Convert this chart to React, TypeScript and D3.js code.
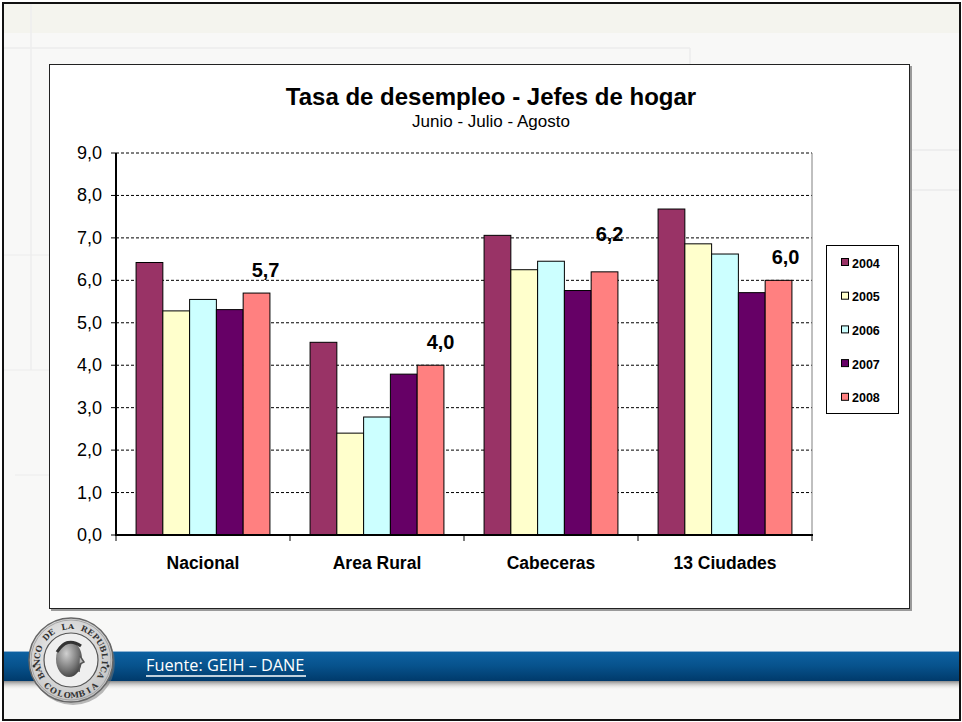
import React from "react";
import * as d3 from "d3";

const categories = ["Nacional", "Area Rural", "Cabeceras", "13 Ciudades"];
const years = ["2004", "2005", "2006", "2007", "2008"];
const values2004 = [6.42, 4.54, 7.06, 7.68];
const values2005 = [5.28, 2.4, 6.25, 6.86];
const values2006 = [5.55, 2.78, 6.45, 6.62];
const values2007 = [5.31, 3.79, 5.76, 5.71];
const values2008 = [5.7, 4.0, 6.2, 6.0];
const seriesValues = [values2004, values2005, values2006, values2007, values2008];
const seriesColors = ["#993366", "#FFFFCC", "#CCFFFF", "#660066", "#FF8080"];
const yTicks = [0, 1, 2, 3, 4, 5, 6, 7, 8, 9];
// small nudges of the 2008 value labels (dx, extra dy) as placed in the original
const labelNudgeX = [9, 10, 5, 7];
const labelNudgeY = [0, 0, 15, 0];
const sealTopText = "BANCO DE LA REPUBLICA";
const sealBottomText = "COLOMBIA";

const FONT = "'Liberation Sans', Arial, Helvetica, sans-serif";
const fmt = (v: number) => d3.format(".1f")(v).replace(".", ",");

function ArcLetters({ text, cx, cy, r, from, to, bottom }: { text: string; cx: number; cy: number; r: number; from: number; to: number; bottom: boolean }) {
  const chars = text.split("");
  const ang = d3.scaleLinear().domain([0, chars.length - 1]).range([from, to]);
  return (
    <g>
      {chars.map((ch, i) => {
        if (ch === " ") return null;
        const th = ang(i);
        const rad = (th * Math.PI) / 180;
        const px = cx + r * Math.sin(rad);
        const py = cy - r * Math.cos(rad);
        const rot = bottom ? th - 180 : th;
        return (
          <text key={i} x={0} y={0} transform={`translate(${px.toFixed(2)},${py.toFixed(2)}) rotate(${rot.toFixed(2)})`}
            textAnchor="middle" fontSize={8} fontWeight="bold" fill="#333" fontFamily="'DejaVu Serif', serif">
            {ch}
          </text>
        );
      })}
    </g>
  );
}

export default function App() {
  const plotL = 116, plotR = 812, plotT = 153, plotB = 535;
  const x0 = d3.scaleBand<string>().domain(categories).range([plotL, plotR]).paddingInner(0).paddingOuter(0);
  const x1 = d3.scaleBand<string>().domain(years).range([0, x0.bandwidth()]).paddingInner(0).paddingOuter(0.75);
  const y = d3.scaleLinear().domain([0, 9]).range([plotB, plotT]);

  const cx = 71, cy = 660;

  const legendX = 826, legendY = 245, legendW = 72, legendH = 168;
  const legendRow = (i: number) => 263 + i * 33.7;

  return (
    <svg width={962} height={722} style={{ position: "absolute", left: 0, top: 0 }} fontFamily={FONT}>
      <defs>
        <linearGradient id="band" x1="0" y1="0" x2="0" y2="1">
          <stop offset="0" stopColor="#0d62a3" />
          <stop offset="0.5" stopColor="#07528c" />
          <stop offset="1" stopColor="#003a6b" />
        </linearGradient>
        <linearGradient id="bandShadow" x1="0" y1="0" x2="0" y2="1">
          <stop offset="0" stopColor="#8a8a8a" />
          <stop offset="1" stopColor="#f7f7f5" stopOpacity="0" />
        </linearGradient>
        <radialGradient id="seal" cx="0.45" cy="0.4" r="0.7">
          <stop offset="0" stopColor="#f4f4f4" />
          <stop offset="1" stopColor="#bdbdbd" />
        </radialGradient>
        <radialGradient id="head" cx="0.4" cy="0.35" r="0.75">
          <stop offset="0" stopColor="#d0d0d0" />
          <stop offset="0.6" stopColor="#777" />
          <stop offset="1" stopColor="#333" />
        </radialGradient>
      </defs>

      {/* slide background */}
      <rect x={0} y={0} width={962} height={722} fill="#ffffff" />
      <rect x={4} y={4} width={955} height={715} fill="#f8f8f7" />
      <rect x={4} y={4} width={955} height={29} fill="#f4f4ee" />
      <line x1={4} y1={48} x2={690} y2={48} stroke="#ececec" strokeWidth={1.5} />
      <line x1={690} y1={48} x2={690} y2={64} stroke="#ececec" strokeWidth={1.5} />
      <line x1={31} y1={4} x2={31} y2={370} stroke="#eeeeee" strokeWidth={1.5} />
      <line x1={4} y1={255} x2={49} y2={255} stroke="#ececec" strokeWidth={1} />
      <line x1={4} y1={370} x2={49} y2={370} stroke="#ececec" strokeWidth={1} />
      <line x1={15} y1={475} x2={49} y2={475} stroke="#ececec" strokeWidth={1} />
      <line x1={910} y1={150} x2={959} y2={150} stroke="#ebebeb" strokeWidth={1.5} />
      <line x1={910} y1={190} x2={959} y2={190} stroke="#ebebeb" strokeWidth={1.5} />
      <rect x={3} y={3} width={957} height={717} fill="none" stroke="#111" strokeWidth={2} />

      {/* chart box */}
      <rect x={51} y={66} width={861} height={545} fill="#9a9a9a" />
      <rect x={49.5} y={64.5} width={860} height={544} fill="#ffffff" stroke="#222" strokeWidth={1} />

      {/* titles */}
      <text x={491} y={105} textAnchor="middle" fontSize={24} fontWeight="bold" fill="#000">
        Tasa de desempleo - Jefes de hogar
      </text>
      <text x={491} y={127} textAnchor="middle" fontSize={17} fill="#000">
        Junio - Julio - Agosto
      </text>

      {/* grid */}
      {yTicks.filter((t) => t > 0).map((t) => (
        <line key={"g" + t} x1={plotL} x2={plotR} y1={y(t)} y2={y(t)} stroke="#000" strokeWidth={1} strokeDasharray="3,2" />
      ))}
      <line x1={plotR} x2={plotR} y1={plotT} y2={plotB} stroke="#808080" strokeWidth={1} />

      {/* bars */}
      {categories.map((c, ci) =>
        years.map((yr, si) => {
          const v = seriesValues[si][ci];
          const bx = (x0(c) as number) + (x1(yr) as number);
          return (
            <rect key={c + yr} x={bx} y={y(v)} width={x1.bandwidth()} height={y(0) - y(v)}
              fill={seriesColors[si]} stroke="#000" strokeWidth={1} />
          );
        })
      )}

      {/* 2008 value labels */}
      {categories.map((c, ci) => {
        const v = values2008[ci];
        const bx = (x0(c) as number) + (x1("2008") as number) + x1.bandwidth() / 2;
        return (
          <text key={"l" + c} x={bx + labelNudgeX[ci]} y={y(v) - 16 - labelNudgeY[ci]} textAnchor="middle"
            fontSize={20} fontWeight="bold" fill="#000">
            {fmt(v)}
          </text>
        );
      })}

      {/* axes */}
      <line x1={plotL} x2={plotL} y1={plotT} y2={plotB + 1} stroke="#000" strokeWidth={2} />
      <line x1={plotL - 1} x2={plotR + 1} y1={plotB} y2={plotB} stroke="#000" strokeWidth={2} />
      {yTicks.map((t) => (
        <line key={"ytl" + t} x1={plotL - 5} x2={plotL} y1={y(t)} y2={y(t)} stroke="#000" strokeWidth={1} />
      ))}
      {yTicks.map((t) => (
        <text key={"yt" + t} x={102} y={y(t) + 6} textAnchor="end" fontSize={18} fill="#000">
          {fmt(t)}
        </text>
      ))}
      {[...categories.map((c) => x0(c) as number), plotR].map((px, i) => (
        <line key={"xt" + i} x1={px} x2={px} y1={plotB} y2={plotB + 6} stroke="#000" strokeWidth={1} />
      ))}
      {categories.map((c) => (
        <text key={"xl" + c} x={(x0(c) as number) + x0.bandwidth() / 2} y={569} textAnchor="middle"
          fontSize={17.5} fontWeight="bold" fill="#000">
          {c}
        </text>
      ))}

      {/* legend */}
      <rect x={legendX + 0.5} y={legendY + 0.5} width={legendW} height={legendH} fill="#fff" stroke="#000" strokeWidth={1} />
      {years.map((yr, i) => (
        <g key={"lg" + yr}>
          <rect x={841.5} y={legendRow(i) - 4.5} width={7} height={7} fill={seriesColors[i]} stroke="#000" strokeWidth={1} />
          <text x={852} y={legendRow(i) + 4.5} fontSize={12.5} fontWeight="bold" fill="#000">
            {yr}
          </text>
        </g>
      ))}

      {/* bottom band */}
      <rect x={4} y={681} width={955} height={9} fill="url(#bandShadow)" />
      <rect x={4} y={651} width={955} height={30} fill="url(#band)" />
      <line x1={4} y1={651.5} x2={959} y2={651.5} stroke="#8fb4d4" strokeWidth={1} />
      <text x={146} y={671} fontSize={16.3} fill="#ffffff" fontFamily="'Open Sans', 'Noto Sans', sans-serif">
        Fuente: GEIH – DANE
      </text>
      <line x1={146} y1={676} x2={306} y2={676} stroke="#ffffff" strokeWidth={1.5} />

      {/* seal */}
      <circle cx={cx + 2} cy={cy + 3} r={42} fill="#777" opacity={0.5} />
      <circle cx={cx} cy={cy} r={42} fill="url(#seal)" stroke="#666" strokeWidth={1.5} />
      <circle cx={cx} cy={cy} r={40} fill="none" stroke="#999" strokeWidth={0.8} />
      <circle cx={cx} cy={cy} r={27} fill="#efefef" stroke="#555" strokeWidth={1.2} />
      <ellipse cx={cx - 2} cy={cy - 1} rx={13} ry={18} fill="url(#head)" />
      <path d={`M ${cx + 9} ${cy - 4} L ${cx + 13} ${cy + 2} L ${cx + 9} ${cy + 4} L ${cx + 8} ${cy + 12}`} stroke="#555" strokeWidth={1.5} fill="#bbb" />
      <path d={`M ${cx - 14} ${cy - 8} Q ${cx - 4} ${cy - 24} ${cx + 10} ${cy - 14}`} stroke="#333" strokeWidth={3} fill="none" />
      <ArcLetters text={sealTopText} cx={cx} cy={cy} r={31} from={-118} to={118} bottom={false} />
      <ArcLetters text={sealBottomText} cx={cx} cy={cy} r={38} from={222} to={138} bottom={true} />
      <circle cx={cx - 37} cy={cy + 6} r={1.5} fill="#333" />
      <circle cx={cx + 37} cy={cy + 6} r={1.5} fill="#333" />
    </svg>
  );
}
